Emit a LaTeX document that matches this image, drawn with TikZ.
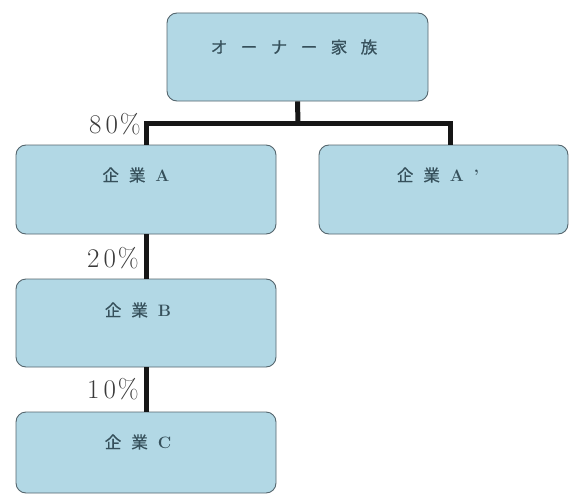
\documentclass[tikz,border=0pt]{standalone}
\usepackage{fontspec}
\newfontfamily\jp{Noto Sans CJK JP}[FakeBold=0.6]
\definecolor{boxfill}{HTML}{B2D8E5}
\definecolor{boxline}{HTML}{55666E}
\definecolor{boxtext}{HTML}{36505B}
\definecolor{conncol}{HTML}{161616}
\definecolor{pcttext}{HTML}{3A3A3A}
\newcommand{\gp}{\hspace{10pt}}
\newcommand{\gq}{\hspace{13.5pt}}
\tikzset{
  box/.style={draw=boxline, fill=boxfill, rounded corners=10pt, line width=0.9pt, inner sep=0pt},
  boxtxt/.style={text=boxtext, font=\fontsize{16.5}{18}\selectfont, inner sep=0pt},
  pct/.style={text=pcttext, font=\fontsize{27}{29}\selectfont, inner sep=0pt, anchor=east},
  conn/.style={draw=conncol, line width=5pt, line join=miter}
}
\begin{document}
\begin{tikzpicture}[x=1pt,y=-1pt]
\useasboundingbox (0,0) rectangle (570,495);
\fill[white] (0,0) rectangle (570,495);
% boxes
\node[box, minimum width=261pt, minimum height=88pt] (own) at (297.5,57) {};
\node[box, minimum width=260pt, minimum height=89pt] (A) at (146,189.5) {};
\node[box, minimum width=249pt, minimum height=89pt] (Ap) at (443.5,189.5) {};
\node[box, minimum width=260pt, minimum height=88pt] (B) at (146,323) {};
\node[box, minimum width=260pt, minimum height=81pt] (C) at (146,452.5) {};
% texts
\node[boxtxt] (ownt) at (294,47) {{\jp オ}\gq{\jp ー}\gq{\jp ナ}\gq{\jp ー}\gq{\jp 家}\gq{\jp 族}};
\node[boxtxt] (At) at (136,175) {{\jp 企}\gp{\jp 業}\gp\textbf{A}};
\node[boxtxt] (Apt) at (438,175) {{\jp 企}\gp{\jp 業}\gp\textbf{A}\hspace{10pt}\textbf{'}};
\node[boxtxt] (Bt) at (138,310) {{\jp 企}\gp{\jp 業}\gp\textbf{B}};
\node[boxtxt] (Ct) at (138,442) {{\jp 企}\gp{\jp 業}\gp\textbf{C}};
% connectors
\coordinate (j) at (298,123);
\draw[conn] (own.south) -- (j);
\draw[conn] (A.north) |- (j) -| ([xshift=6.5pt]Ap.north);
\draw[conn] (A.south) -- (B.north);
\draw[conn] (B.south) -- (C.north);
% percentages
\node[pct] (p80) at (141,124) {8\hspace{4pt}0\hspace{2pt}\%};
\node[pct] (p20) at (139,258) {2\hspace{4pt}0\hspace{2pt}\%};
\node[pct] (p10) at (139,389) {1\hspace{4pt}0\hspace{2pt}\%};
\end{tikzpicture}
\end{document}
